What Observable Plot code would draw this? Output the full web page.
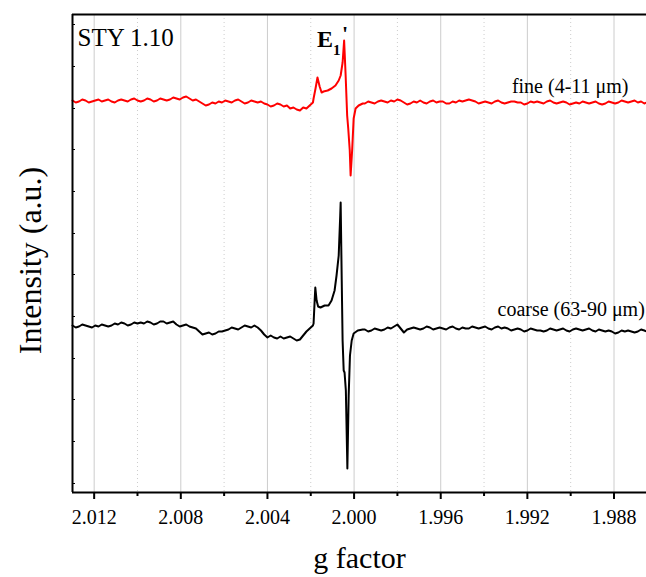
<!DOCTYPE html>
<html><head><meta charset="utf-8">
<script src="https://cdn.jsdelivr.net/npm/d3@7"></script>
<script src="https://cdn.jsdelivr.net/npm/@observablehq/plot@0.6"></script>
<style>body{margin:0;background:#fff}</style>
</head><body><div id="chart"></div>
<script>
// g-factor grid shared by both spectra (flat regions)
const gLeft = [2.01300,2.01285,2.01270,2.01255,2.01240,2.01225,2.01210,2.01195,2.01180,2.01165,
  2.01150,2.01135,2.01120,2.01105,2.01090,2.01075,2.01060,2.01045,2.01030,2.01015,
  2.01000,2.00985,2.00970,2.00955,2.00940,2.00925,2.00910,2.00895,2.00880,2.00865,
  2.00850,2.00835,2.00820,2.00805,2.00790,2.00775,2.00760,2.00745,2.00730,2.00715,
  2.00700,2.00685,2.00670,2.00655,2.00640,2.00625,2.00610,2.00595,2.00580,2.00565,
  2.00550,2.00535,2.00520,2.00505,2.00490,2.00475,2.00460,2.00445,2.00430,2.00415,
  2.00400,2.00385,2.00370,2.00355,2.00340,2.00325,2.00310,2.00295,2.00280,2.00265,
  2.00250,2.00235,2.00220,2.00205,2.00190];
const gRight = [1.99950,1.99935,1.99920,1.99905,1.99890,1.99875,1.99860,1.99845,1.99830,1.99815,
  1.99800,1.99785,1.99770,1.99755,1.99740,1.99725,1.99710,1.99695,1.99680,1.99665,
  1.99650,1.99635,1.99620,1.99605,1.99590,1.99575,1.99560,1.99545,1.99530,1.99515,
  1.99500,1.99485,1.99470,1.99455,1.99440,1.99425,1.99410,1.99395,1.99380,1.99365,
  1.99350,1.99335,1.99320,1.99305,1.99290,1.99275,1.99260,1.99245,1.99230,1.99215,
  1.99200,1.99185,1.99170,1.99155,1.99140,1.99125,1.99110,1.99095,1.99080,1.99065,
  1.99050,1.99035,1.99020,1.99005,1.98990,1.98975,1.98960,1.98945,1.98930,1.98915,
  1.98900,1.98885,1.98870,1.98855,1.98840,1.98825,1.98810,1.98795,1.98780,1.98765,
  1.98750,1.98735,1.98720,1.98705,1.98690,1.98675,1.98660,1.98650];
// signal region
const gFinePeak = [2.00187,2.00178,2.00169,2.00159,2.00150,2.00141,2.00122,2.00104,2.00086,2.00071,2.00062,2.00053,2.00046,2.00039,2.00032,2.00027,2.00020,2.00016,2.00009,2.00002,1.99993,1.99979,1.99960];
const gCoarsePeak = [2.00187,2.00182,2.00179,2.00173,2.00166,2.00155,2.00136,2.00118,2.00104,2.00090,2.00081,2.00071,2.00064,2.00062,2.00057,2.00053,2.00048,2.00044,2.00038,2.00031,2.00025,2.00019,2.00011,2.00002,1.99983,1.99960];

// intensities (a.u., spectra offset vertically)
const iFineLeft = [392,390,391,393,392,390,391,392,393,391,
  392,393,391,390,392,393,392,391,393,394,
  392,391,392,394,393,391,392,394,393,392,
  393,395,394,393,395,396,394,392,393,391,
  389,387,388,390,389,391,390,392,391,390,
  392,393,391,389,390,392,391,390,391,389,
  388,386,387,389,388,386,387,384,385,383,
  382,385,384,387,390];
const iFinePeak = [394,404,415,406,400,401,402,404,407,412,417,430,452,417,377,364,342,317,342,374,384,387,389];
const iFineRight = [389,391,390,389,391,392,391,390,392,391,
  393,392,390,388,389,391,390,392,390,389,
  391,392,390,391,391,389,389,391,390,392,
  391,392,393,392,391,389,390,391,390,389,
  391,392,390,389,390,391,391,390,390,388,
  389,391,390,391,390,389,391,392,390,389,
  390,391,390,388,389,390,389,391,390,389,
  390,391,389,388,389,391,390,389,390,392,
  391,390,391,392,390,391,389,390];
const iCoarseLeft = [167,165,166,168,167,166,165,167,166,168,
  167,166,167,169,168,170,169,167,168,170,
  169,170,169,171,170,168,169,171,171,169,
  170,171,168,166,167,168,166,165,164,161,
  158,159,160,158,159,161,161,162,163,165,
  164,163,165,167,166,165,167,165,162,158,
  155,157,155,154,156,154,155,156,154,152,
  153,157,161,164,167];
const iCoarsePeak = [169,192,205,192,186,185,187,187,192,202,217,237,277,290,212,152,122,120,102,24,97,137,152,159,162,163];
const iCoarseRight = [163,161,162,164,163,162,163,165,164,166,
  168,164,160,163,164,165,164,163,164,166,
  165,163,164,165,164,163,165,166,164,163,
  165,164,164,166,165,164,165,166,164,163,
  165,166,164,165,164,162,163,164,163,161,
  162,164,163,162,162,161,162,164,163,162,
  163,164,162,161,163,164,163,162,163,164,
  162,161,163,162,161,162,161,159,160,162,
  161,162,161,160,161,163,162,161];

const majorTicks = [2.012,2.008,2.004,2.000,1.996,1.992,1.988];
const minorTicks = [2.010,2.006,2.002,1.998,1.994,1.990];
const yTicks = [9,51,93,134,176,218,259,301,343,384,426,468];

const gFine = gLeft.concat(gFinePeak, gRight);
const gCoarse = gLeft.concat(gCoarsePeak, gRight);
const iFine = iFineLeft.concat(iFinePeak, iFineRight);
const iCoarse = iCoarseLeft.concat(iCoarsePeak, iCoarseRight);
const fine = gFine.map((g, k) => ({g, i: iFine[k]}));
const coarse = gCoarse.map((g, k) => ({g, i: iCoarse[k]}));
const peakG = gFine[d3.maxIndex(iFine)];

const chart = Plot.plot({
  width: 646, height: 577,
  marginLeft: 72, marginRight: 0, marginTop: 14, marginBottom: 85,
  style: {fontFamily: "'Liberation Serif','Times New Roman',serif", fontSize: "20px", background: "#fff", color: "#000", overflow: "visible"},
  x: {domain: [2.013, 1.9865]},
  y: {domain: [0, 478]},
  marks: [
    Plot.gridX(majorTicks, {stroke: "#cccccc", strokeOpacity: 1, strokeWidth: 1}),
    Plot.gridX(minorTicks, {stroke: "#cccccc", strokeOpacity: 1, strokeWidth: 1, strokeDasharray: "1,3"}),
    Plot.line(fine, {x: "g", y: "i", stroke: "#ff0000", strokeWidth: 2}),
    Plot.line(coarse, {x: "g", y: "i", stroke: "#000000", strokeWidth: 2}),
    Plot.ruleX([2.013], {stroke: "#000", strokeWidth: 2}),
    Plot.ruleY([0, 478], {stroke: "#000", strokeWidth: 2}),
    Plot.axisX(majorTicks, {tickSize: 7, tickPadding: 10, tickFormat: d3.format(".3f"), fontSize: 20, strokeWidth: 2, label: null}),
    Plot.axisX(minorTicks, {tickSize: 4, text: null, strokeWidth: 2, label: null}),
    Plot.axisY(yTicks, {tickSize: -3, text: null, strokeWidth: 1, label: null}),
    Plot.text(["g factor"], {frameAnchor: "bottom", dy: 75, lineAnchor: "bottom", fontSize: 30}),
    Plot.text(["Intensity (a.u.)"], {frameAnchor: "left", dx: -42, dy: 7, rotate: -90, textAnchor: "middle", lineAnchor: "middle", fontSize: 32}),
    Plot.text(["STY 1.10"], {frameAnchor: "top-left", dx: 5, dy: 31, textAnchor: "start", lineAnchor: "bottom", fontSize: 25}),
    Plot.text(["E"], {x: [peakG], frameAnchor: "top", dx: -27, dy: 32, textAnchor: "start", lineAnchor: "bottom", fontSize: 24, fontWeight: "bold"}),
    Plot.text(["1"], {x: [peakG], frameAnchor: "top", dx: -11, dy: 40, textAnchor: "start", lineAnchor: "bottom", fontSize: 15, fontWeight: "bold"}),
    Plot.text(["'"], {x: [peakG], frameAnchor: "top", dx: 1, dy: 26, textAnchor: "middle", lineAnchor: "bottom", fontSize: 22, fontWeight: "bold"}),
    Plot.text(["fine (4-11 μm)"], {frameAnchor: "top-right", dx: -18, dy: 78, textAnchor: "end", lineAnchor: "bottom", fontSize: 20}),
    Plot.text(["coarse (63-90 μm)"], {frameAnchor: "top-right", dx: -149, dy: 301, textAnchor: "start", lineAnchor: "bottom", fontSize: 20})
  ]
});
document.getElementById("chart").appendChild(chart);
</script>
</body></html>
